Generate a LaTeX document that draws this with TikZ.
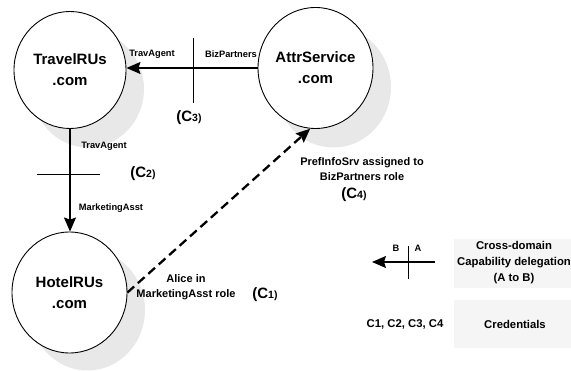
\documentclass[tikz,border=0pt]{standalone}
\usepackage{fontspec}
\setmainfont{Liberation Sans}
\usetikzlibrary{shapes.geometric,arrows.meta}
\definecolor{shadowgray}{RGB}{232,232,232}
\definecolor{legendgray}{RGB}{245,245,245}
\newcommand{\crd}[1]{{\fontsize{15}{15}\selectfont (C}{\fontsize{10.5}{10.5}\selectfont #1)}}
\begin{document}
\begin{tikzpicture}[x=1pt,y=-1pt,
  every node/.style={font=\bfseries},
  site/.style={ellipse,draw,line width=0.9pt,fill=white,inner sep=0pt,align=center,
     font=\bfseries\fontsize{15}{21}\selectfont},
  siteshadow/.style={ellipse,fill=shadowgray,inner sep=0pt},
  arr/.style={line width=1.4pt,-{Stealth[length=14pt,width=12pt,inset=2pt]}},
  tick/.style={line width=0.9pt},
  small/.style={font=\bfseries\fontsize{9.3}{11}\selectfont},
  mid/.style={font=\bfseries\fontsize{11}{15}\selectfont,align=center},
  legend/.style={fill=legendgray,draw=none}]
\useasboundingbox (0,0) rectangle (571,371);
% shadows
\node[siteshadow,minimum width=112pt,minimum height=117pt] (travelS) at (88,89) {};
\node[siteshadow,minimum width=115pt,minimum height=121pt] (attrS) at (333.5,87) {};
\node[siteshadow,minimum width=115pt,minimum height=121pt] (hotelS) at (87.5,310) {};
% sites
\node[site,minimum width=112pt,minimum height=117pt] (travel) at (70,70) {TravelRUs\\.com};
\node[site,minimum width=115pt,minimum height=121pt] (attr) at (315.5,68) {AttrService\\.com};
\node[site,minimum width=115pt,minimum height=121pt] (hotel) at (69.5,292.5) {HotelRUs\\.com};
% C3 delegation
\draw[arr] (attr.west) -- (attr.west -| travel.east);
\coordinate (c3) at (193,69);
\draw[tick] ([yshift=-34pt]c3) -- ([yshift=31pt]c3);
\node[small] (l3a) at (152,54) {TravAgent};
\node[small] (l3b) at (231,54) {BizPartners};
\node (c3lab) at (189,118) {\crd{3}};
% C2 delegation
\draw[arr] (travel.south) -- (travel.south |- hotel.north);
\coordinate (c2) at (70,174);
\draw[tick] ([xshift=-33pt]c2) -- ([xshift=30pt]c2);
\node[small] (l2a) at (104,146) {TravAgent};
\node[small] (l2b) at (111,208) {MarketingAsst};
\node (c2lab) at (143,174) {\crd{2}};
% C1 / C4 dashed
\draw[arr,line width=2.3pt,dash pattern=on 9pt off 5pt] (hotel.east) -- (attr.265);
\node[mid] (l1) at (186,287) {Alice in\\MarketingAsst role};
\node (c1lab) at (265,295) {\crd{1}};
\node[mid] (l4) at (362,169) {PrefInfoSrv assigned to\\BizPartners role};
\node (c4lab) at (354,195) {\crd{4}};
% legend
\coordinate (lgA) at (435,262);
\coordinate (lgB) at (372,262);
\draw[arr] (lgA) -- (lgB);
\coordinate (lgC) at (408,262);
\draw[tick] ([yshift=-17pt]lgC) -- ([yshift=16pt]lgC);
\node[small] (lgb) at (396,248) {B};
\node[small] (lga) at (418,248) {A};
\fill[legend] (454,239) rectangle (571,288);
\fill[legend] (454,300) rectangle (571,348);
\node[mid,font=\bfseries\fontsize{11.3}{16}\selectfont] (lg1) at (514,263) {Cross-domain\\Capability delegation\\(A to B)};
\node[mid,font=\bfseries\fontsize{11.3}{16}\selectfont] (lg2) at (515,324) {Credentials};
\node[mid,font=\bfseries\fontsize{11.3}{16}\selectfont] (lg3) at (405,324) {C1, C2, C3, C4};
\end{tikzpicture}
\end{document}
